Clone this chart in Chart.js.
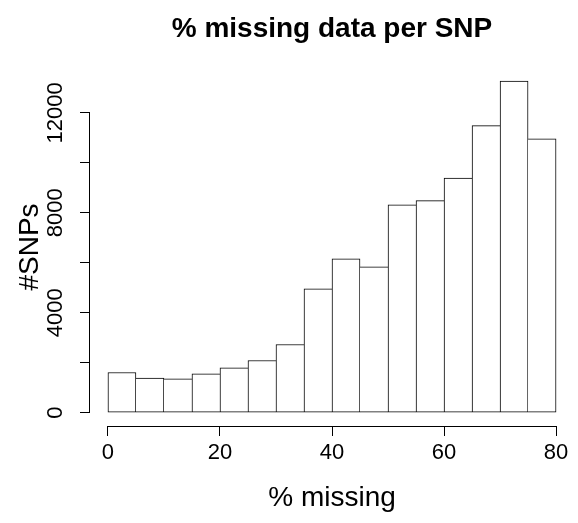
<!DOCTYPE html>
<html>
<head>
<meta charset="utf-8">
<script src="https://cdn.jsdelivr.net/npm/chart.js@4/dist/chart.umd.min.js"></script>
<style>
  html, body { margin: 0; padding: 0; background: #fff; }
</style>
</head>
<body>
<canvas id="hist" width="578" height="523"></canvas>
<script>
// histogram bins (% missing), 5 wide
const binStarts = [0, 5, 10, 15, 20, 25, 30, 35, 40, 45, 50, 55, 60, 65, 70, 75];
const binWidth = 5;
const counts = [1610, 1390, 1360, 1560, 1800, 2090, 2730, 4960, 6160, 5840, 8320, 8490, 9390, 11490, 13270, 10960];

const xTicks = [0, 20, 40, 60, 80];
const yTicks = [0, 2000, 4000, 6000, 8000, 10000, 12000];
const yLabels = [0, 4000, 8000, 12000];

const FONT = '"Liberation Sans", Arial, Helvetica, sans-serif';

// R style axis: line only between first and last tick, labels rotated on y
const rAxes = {
  id: 'rAxes',
  afterDraw(chart) {
    const ctx = chart.ctx;
    const area = chart.chartArea;
    const xs = chart.scales.x, ys = chart.scales.y;
    ctx.save();
    ctx.strokeStyle = '#000';
    ctx.lineWidth = 1;

    const ay = Math.round(area.bottom) + 0.5;
    ctx.beginPath();
    ctx.moveTo(xs.getPixelForValue(xTicks[0]), ay);
    ctx.lineTo(xs.getPixelForValue(xTicks[xTicks.length - 1]), ay);
    ctx.stroke();

    const ax = Math.round(area.left) - 0.5;
    ctx.beginPath();
    ctx.moveTo(ax, ys.getPixelForValue(yTicks[0]));
    ctx.lineTo(ax, ys.getPixelForValue(yTicks[yTicks.length - 1]));
    ctx.stroke();

    ctx.fillStyle = '#000';
    ctx.font = '22px ' + FONT;
    ctx.textAlign = 'center';
    ctx.textBaseline = 'middle';
    yLabels.forEach(v => {
      ctx.save();
      ctx.translate(56, ys.getPixelForValue(v));
      ctx.rotate(-Math.PI / 2);
      ctx.fillText(String(v), 0, 0);
      ctx.restore();
    });
    ctx.restore();
  }
};

const last = counts.length - 1;
// shared edges are drawn once, by the taller neighbour
const edges = c => {
  const i = c.dataIndex;
  const left = (i === 0 || counts[i] >= counts[i - 1]) ? 1 : 0;
  const right = (i === last || counts[i] > counts[i + 1]) ? 1 : 0;
  return { top: 1, bottom: 1, left, right };
};

new Chart(document.getElementById('hist'), {
  type: 'bar',
  data: {
    datasets: [{
      data: binStarts.map((b, i) => ({ x: b + binWidth / 2, y: counts[i] })),
      backgroundColor: '#fff',
      borderColor: '#000',
      borderWidth: edges,
      borderSkipped: false,
      barPercentage: 1,
      categoryPercentage: 1
    }]
  },
  options: {
    responsive: false,
    animation: false,
    layout: { padding: { right: 4 } },
    plugins: {
      legend: { display: false },
      tooltip: { enabled: false },
      title: {
        display: true,
        fullSize: false,
        text: '% missing data per SNP',
        color: '#000',
        font: { family: FONT, size: 28, weight: 'bold' },
        padding: { top: 12, bottom: 22.4 }
      }
    },
    scales: {
      x: {
        type: 'linear',
        min: -3.2,
        max: 83.2,
        offset: false,
        afterBuildTicks: s => { s.ticks = xTicks.map(v => ({ value: v })); },
        afterFit: s => { s.height = 97; },
        grid: { display: true, offset: false, drawOnChartArea: false, drawTicks: true, tickLength: 10, color: '#000' },
        border: { display: false },
        ticks: { color: '#000', font: { family: FONT, size: 22 }, padding: 4, maxRotation: 0 },
        title: {
          display: true,
          text: '% missing',
          color: '#000',
          font: { family: FONT, size: 28 },
          padding: { top: 0, bottom: 8 }
        }
      },
      y: {
        min: -531,
        max: 13798,
        afterBuildTicks: s => { s.ticks = yTicks.map(v => ({ value: v })); },
        afterFit: s => { s.width = 90; },
        grid: { display: true, drawOnChartArea: false, drawTicks: true, tickLength: 10, color: '#000' },
        border: { display: false },
        ticks: { display: false },
        title: {
          display: true,
          text: '#SNPs',
          color: '#000',
          font: { family: FONT, size: 28 },
          padding: { top: 13, bottom: 0 }
        }
      }
    }
  },
  plugins: [rAxes]
});
</script>
</body>
</html>
